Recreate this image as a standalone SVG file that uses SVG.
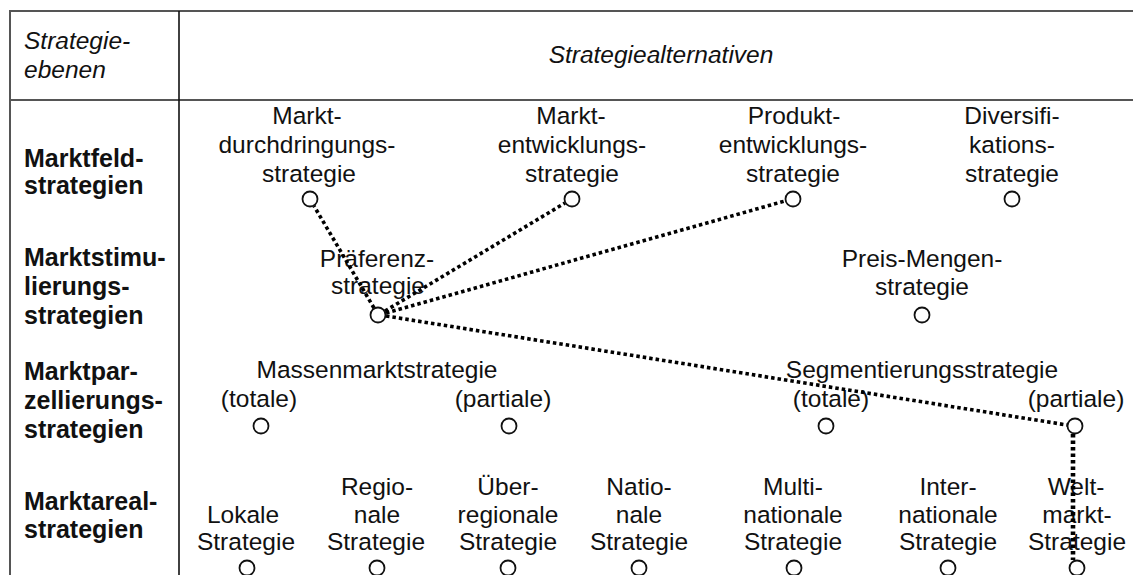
<svg xmlns="http://www.w3.org/2000/svg" width="1133" height="575" viewBox="0 0 1133 575">
<style>
text{font-family:"Liberation Sans",Arial,sans-serif;font-size:24.5px;fill:#111;}
.c{text-anchor:middle;}
.it{font-style:italic;}
.b{font-weight:bold;font-size:25px;}
.grid{stroke:#555;stroke-width:2;fill:none;}
.sep{stroke:#111;stroke-width:1.6;fill:none;}
.n{fill:#fff;stroke:#111;stroke-width:1.8;}
.dot{stroke:#000;stroke-width:3.6;stroke-dasharray:3.5 3;fill:none;}
.dotv{stroke-width:4.6;}
</style>
<rect width="1133" height="575" fill="#fff"/>
<g id="table">
<line class="grid" x1="10" y1="11" x2="1133" y2="11"/>
<line class="grid" x1="10" y1="100" x2="1133" y2="100"/>
<line class="grid" x1="10" y1="10" x2="10" y2="575"/>
<line class="sep" x1="179" y1="11" x2="179" y2="575"/>
<text class="it" x="24" y="49">Strategie-</text>
<text class="it" x="24" y="78">ebenen</text>
<text class="it c" x="661" y="63">Strategiealternativen</text>
<text class="b" x="24" y="167">Marktfeld-</text>
<text class="b" x="24" y="194">strategien</text>
<text class="b" x="24" y="266">Marktstimu-</text>
<text class="b" x="24" y="295">lierungs-</text>
<text class="b" x="24" y="324">strategien</text>
<text class="b" x="24" y="380">Marktpar-</text>
<text class="b" x="24" y="409">zellierungs-</text>
<text class="b" x="24" y="438">strategien</text>
<text class="b" x="24" y="510">Marktareal-</text>
<text class="b" x="24" y="538">strategien</text>
</g>
<g id="n-durchdringung">
<text class="c" x="307" y="124">Markt-</text>
<text class="c" x="307" y="153">durchdringungs-</text>
<text class="c" x="309" y="182">strategie</text>
<circle class="n" cx="310" cy="199" r="7.5"/>
</g>
<g id="n-marktentwicklung">
<text class="c" x="571" y="124">Markt-</text>
<text class="c" x="572" y="153">entwicklungs-</text>
<text class="c" x="572" y="182">strategie</text>
<circle class="n" cx="572" cy="199" r="7.5"/>
</g>
<g id="n-produktentwicklung">
<text class="c" x="794" y="124">Produkt-</text>
<text class="c" x="793" y="153">entwicklungs-</text>
<text class="c" x="793" y="182">strategie</text>
<circle class="n" cx="793" cy="199" r="7.5"/>
</g>
<g id="n-diversifikation">
<text class="c" x="1012" y="124">Diversifi-</text>
<text class="c" x="1012" y="153">kations-</text>
<text class="c" x="1012" y="182">strategie</text>
<circle class="n" cx="1012" cy="199" r="7.5"/>
</g>
<g id="n-praeferenz">
<text class="c" x="377" y="267">Präferenz-</text>
<text class="c" x="378" y="294">strategie</text>
<circle class="n" cx="378" cy="315" r="7.5"/>
</g>
<g id="n-preismengen">
<text class="c" x="922" y="267">Preis-Mengen-</text>
<text class="c" x="922" y="295">strategie</text>
<circle class="n" cx="922" cy="315" r="7.5"/>
</g>
<g id="n-massenmarkt">
<text class="c" x="377" y="378">Massenmarktstrategie</text>
</g>
<g id="n-massen-totale">
<text class="c" x="259" y="407">(totale)</text>
<circle class="n" cx="261" cy="426" r="7.5"/>
</g>
<g id="n-massen-partiale">
<text class="c" x="503" y="407">(partiale)</text>
<circle class="n" cx="509" cy="426" r="7.5"/>
</g>
<g id="n-segmentierung">
<text class="c" x="922" y="378">Segmentierungsstrategie</text>
</g>
<g id="n-segment-totale">
<text class="c" x="831" y="407">(totale)</text>
<circle class="n" cx="826" cy="426" r="7.5"/>
</g>
<g id="n-segment-partiale">
<text class="c" x="1076" y="407">(partiale)</text>
<circle class="n" cx="1075" cy="426" r="7.5"/>
</g>
<g id="n-lokal">
<text class="c" x="243" y="523">Lokale</text>
<text class="c" x="246" y="550">Strategie</text>
<circle class="n" cx="247" cy="568" r="7.5"/>
</g>
<g id="n-regional">
<text class="c" x="377" y="495">Regio-</text>
<text class="c" x="377" y="523">nale</text>
<text class="c" x="376" y="550">Strategie</text>
<circle class="n" cx="377" cy="568" r="7.5"/>
</g>
<g id="n-ueberregional">
<text class="c" x="508" y="495">Über-</text>
<text class="c" x="508" y="523">regionale</text>
<text class="c" x="508" y="550">Strategie</text>
<circle class="n" cx="508" cy="568" r="7.5"/>
</g>
<g id="n-national">
<text class="c" x="639" y="495">Natio-</text>
<text class="c" x="639" y="523">nale</text>
<text class="c" x="639" y="550">Strategie</text>
<circle class="n" cx="639" cy="568" r="7.5"/>
</g>
<g id="n-multinational">
<text class="c" x="793" y="495">Multi-</text>
<text class="c" x="793" y="523">nationale</text>
<text class="c" x="793" y="550">Strategie</text>
<circle class="n" cx="794" cy="568" r="7.5"/>
</g>
<g id="n-international">
<text class="c" x="948" y="495">Inter-</text>
<text class="c" x="948" y="523">nationale</text>
<text class="c" x="948" y="550">Strategie</text>
<circle class="n" cx="948" cy="568" r="7.5"/>
</g>
<g id="n-weltmarkt">
<text class="c" x="1076" y="495">Welt-</text>
<text class="c" x="1077" y="523">markt-</text>
<text class="c" x="1077" y="550">Strategie</text>
<circle class="n" cx="1077" cy="568" r="7.5"/>
</g>
<g id="connectors">
<line class="dot" x1="374" y1="308" x2="314" y2="206"/>
<line class="dot" x1="385" y1="311" x2="565" y2="203"/>
<line class="dot" x1="386" y1="313" x2="785" y2="201"/>
<line class="dot" x1="386" y1="316" x2="1067" y2="425"/>
<line class="dot dotv" x1="1073" y1="434" x2="1073" y2="560"/>
</g>
</svg>
